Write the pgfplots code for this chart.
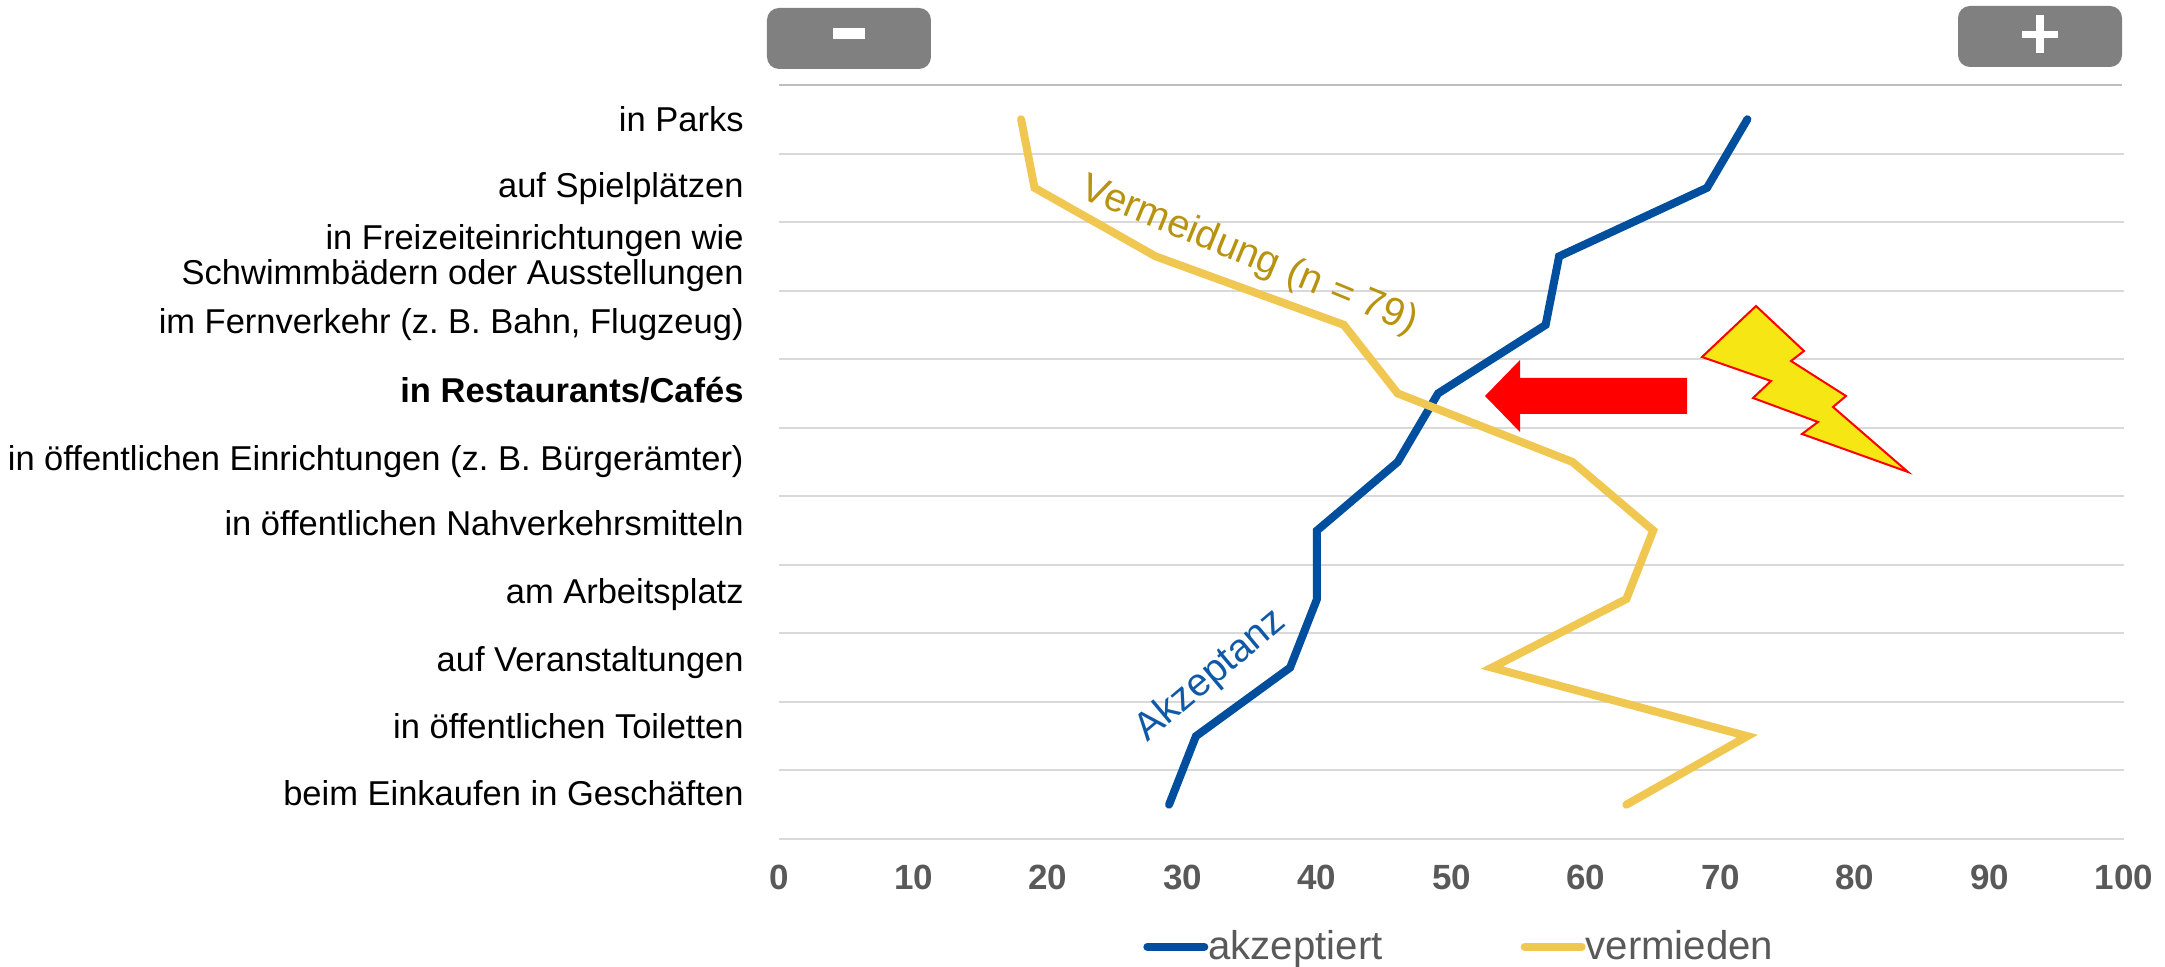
\documentclass[border=0pt]{standalone}
\usepackage{fontspec}
\setmainfont{Liberation Sans}
\usepackage{pgfplots}
\pgfplotsset{compat=1.18}
\definecolor{akzblue}{HTML}{004F9F}
\definecolor{vermyellow}{HTML}{F0C750}
\definecolor{vermtext}{HTML}{B8930F}
\definecolor{akztext}{HTML}{0F5AA6}
\definecolor{gridgray}{HTML}{D9D9D9}
\definecolor{toplinegray}{HTML}{BFBFBF}
\definecolor{tickgray}{HTML}{595959}
\definecolor{btngray}{HTML}{808080}
\definecolor{boltyellow}{HTML}{F5E614}
\newcommand{\catfont}{\frenchspacing\fontsize{17.25}{17.4}\selectfont}
\newcommand{\lab}[1]{\vphantom{Ög}#1}
% reference pixels, origin top left of the 2165x967 picture
\tikzset{px/.style={x=0.5pt,y=-0.5pt,shift={(-779,-839)}}}
\begin{document}
\begin{tikzpicture}
\begin{scope}[px]
\useasboundingbox (0,0) rectangle (2165,967);
\end{scope}
\begin{axis}[
    at={(0,0)},
    anchor=south west,
    scale only axis,
    width=672.5pt,
    height=377pt,
    xmin=0, xmax=100,
    ymin=0.5, ymax=11.5,
    xtick={0,10,...,100},
    % labels sit a little tighter than the rows, as in the reference
    ytick={1.145,2.13,3.10,4.09,5.08,6.04,7.03,8.04,8.98,10.02,10.98},
    yticklabels={
        \lab{beim Einkaufen in Geschäften},
        \lab{in öffentlichen Toiletten},
        \lab{auf Veranstaltungen},
        \lab{am Arbeitsplatz},
        \lab{in öffentlichen Nahverkehrsmitteln},
        \lab{in öffentlichen Einrichtungen (z. B. Bürgerämter)},
        \lab{\textbf{in Restaurants/Cafés}},
        {\lab{im Fernverkehr (z. B. Bahn, Flugzeug)}},
        {in Freizeiteinrichtungen wie\\Schwimmbädern oder Ausstellungen},
        \lab{auf Spielplätzen},
        \lab{in Parks}},
    minor ytick={0.5,1.5,2.5,3.5,4.5,5.5,6.5,7.5,8.5,9.5,10.5},
    yminorgrids,
    minor grid style={gridgray, line width=1pt},
    axis line style={draw=none},
    major tick length=0pt,
    minor tick length=0pt,
    /pgf/number format/assume math mode=true,
    xticklabel style={font=\fontsize{17.5}{20}\selectfont\bfseries, text=tickgray, inner sep=0pt, anchor=north},
    xticklabel shift=13pt,
    yticklabel style={font=\catfont, align=right, inner sep=0pt, anchor=east},
    yticklabel shift=17.5pt,
    clip=false,
    legend style={at={(0.2706,-0.143)}, anchor=west, draw=none, fill=none,
        inner sep=0pt, font=\fontsize{20.1}{22}\selectfont, text=tickgray,
        nodes={inner sep=0pt},
        /tikz/every even column/.append style={column sep=69pt}},
    legend columns=2,
    legend cell align=left,
    legend image code/.code={\draw[#1, line cap=round] (0pt,0pt) -- (28.5pt,0pt);},
]
\addplot[akzblue, line width=4pt, line cap=round, miter limit=4] coordinates {
    (72,11) (69,10) (58,9) (57,8) (49,7) (46,6) (40,5) (40,4) (38,3) (31,2) (29,1)
};
\addlegendentry{akzeptiert}
\addplot[vermyellow, line width=4pt, line cap=round, miter limit=4] coordinates {
    (18,11) (19,10) (28,9) (42,8) (46,7) (59,6) (65,5) (63,4) (53,3) (72,2) (63,1)
};
\addlegendentry{vermieden}
\end{axis}
\begin{scope}[px]
\draw[toplinegray, line width=1pt] (779,85) -- (2122,85);
% buttons
\fill[btngray, rounded corners=6pt] (767,8) rectangle (931,69);
\fill[white] (833,28) rectangle (865,39);
\fill[btngray, rounded corners=6pt] (1958,6) rectangle (2122,67);
\fill[white] (2022,31) rectangle (2058,38);
\fill[white] (2036,15) rectangle (2044,53);
% arrow
\fill[red] (1485,396) -- (1520,360) -- (1520,378) -- (1687,378) -- (1687,414) -- (1520,414) -- (1520,432) -- cycle;
% bolt
\filldraw[draw=red, fill=boltyellow, line width=1pt, miter limit=8]
    (1756,306) -- (1804,351) -- (1791,361) -- (1846,396) -- (1833,407) -- (1908,472)
    -- (1802,434) -- (1818,422) -- (1753,398) -- (1771,381) -- (1702,357) -- cycle;
% curve names
\node[rotate=-22.3, text=vermtext, font=\fontsize{19.8}{20}\selectfont, inner sep=0pt] at (1249,256) {Vermeidung (n = 79)};
\node[rotate=40, text=akztext, font=\fontsize{19.6}{20}\selectfont, inner sep=0pt] at (1211,676) {Akzeptanz};
\end{scope}
\end{tikzpicture}
\end{document}
